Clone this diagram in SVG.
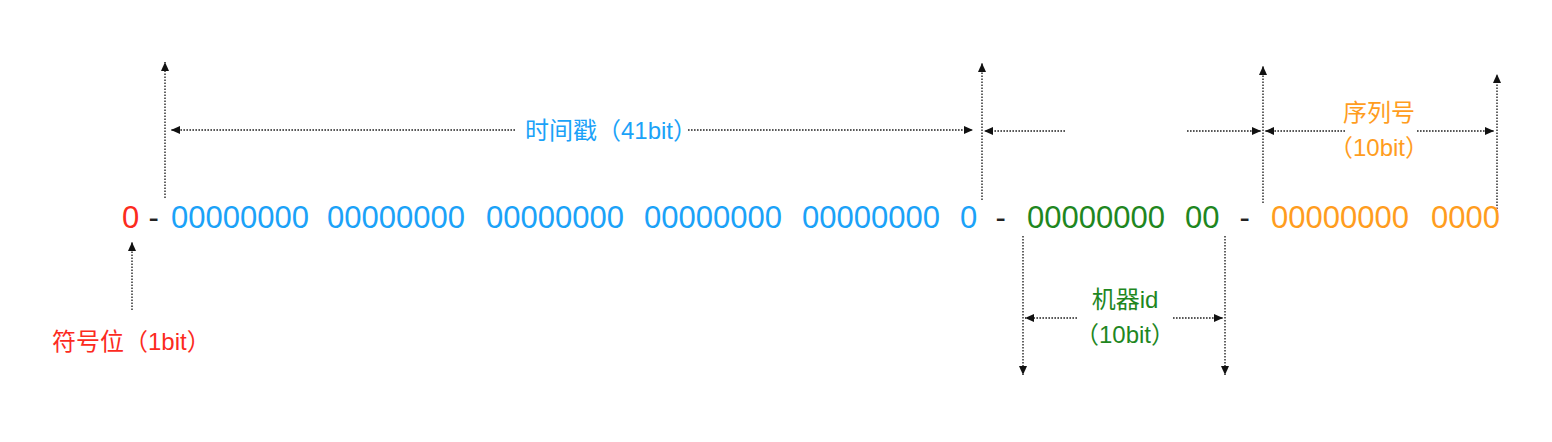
<svg xmlns="http://www.w3.org/2000/svg" width="1552" height="442" viewBox="0 0 1552 442">
<defs>
<marker id="ah" markerUnits="userSpaceOnUse" markerWidth="11" markerHeight="9" refX="9" refY="4" orient="auto">
<path d="M0,0 L9,4 L0,8 z" fill="#111"/>
</marker>
<style>
.c{fill:none;stroke:#222;stroke-width:1.4;stroke-dasharray:1.6 1.4;marker-end:url(#ah)}
.d{font-family:"Liberation Sans","Noto Sans CJK SC",sans-serif;font-size:31px}
.l{font-family:"Liberation Sans","Noto Sans CJK SC",sans-serif;font-size:24px}
.red{fill:#FC2B1E}
.blue{fill:#1BA2F8}
.green{fill:#1F871F}
.orange{fill:#FF9D1E}
.k{fill:#222}
</style>
</defs>
<rect width="1552" height="442" fill="#fff"/>
<g id="connectors">
<line class="c" x1="165" y1="198" x2="165" y2="62"/>
<line class="c" x1="515" y1="130" x2="171" y2="130"/>
<line class="c" x1="688" y1="130" x2="973" y2="130"/>
<line class="c" x1="982" y1="200" x2="982" y2="63"/>
<line class="c" x1="1065" y1="131" x2="984" y2="131"/>
<line class="c" x1="1187" y1="131" x2="1261" y2="131"/>
<line class="c" x1="1263" y1="203" x2="1263" y2="66"/>
<line class="c" x1="1345" y1="131" x2="1265" y2="131"/>
<line class="c" x1="1417" y1="131" x2="1494" y2="131"/>
<line class="c" x1="1497" y1="212" x2="1497" y2="74"/>
<line class="c" x1="132" y1="310" x2="132" y2="242"/>
<line class="c" x1="1023" y1="236" x2="1023" y2="375"/>
<line class="c" x1="1225" y1="236" x2="1225" y2="375"/>
<line class="c" x1="1077" y1="318" x2="1025" y2="318"/>
<line class="c" x1="1173" y1="318" x2="1223" y2="318"/>
</g>
<g id="sign">
<text class="d red" x="122" y="228">0</text>
<text class="l red" x="52" y="350">符号位（1bit）</text>
</g>
<text class="d k" x="148.5" y="228">-</text>
<g id="timestamp">
<text class="d blue" x="171" y="228">00000000</text>
<text class="d blue" x="327" y="228">00000000</text>
<text class="d blue" x="486" y="228">00000000</text>
<text class="d blue" x="644" y="228">00000000</text>
<text class="d blue" x="802" y="228">00000000</text>
<text class="d blue" x="960" y="228">0</text>
<text class="l blue" x="525" y="139">时间戳（41bit）</text>
</g>
<text class="d k" x="995.5" y="228">-</text>
<g id="machine">
<text class="d green" x="1027" y="228">00000000</text>
<text class="d green" x="1185" y="228">00</text>
<text class="l green" x="1125" y="308" text-anchor="middle">机器id</text>
<text class="l green" x="1125" y="343" text-anchor="middle">（10bit）</text>
</g>
<text class="d k" x="1239.5" y="228">-</text>
<g id="sequence">
<text class="d orange" x="1271" y="228">00000000</text>
<text class="d orange" x="1431" y="228">0000</text>
<text class="l orange" x="1379" y="121" text-anchor="middle">序列号</text>
<text class="l orange" x="1379" y="156" text-anchor="middle">（10bit）</text>
</g>
</svg>
